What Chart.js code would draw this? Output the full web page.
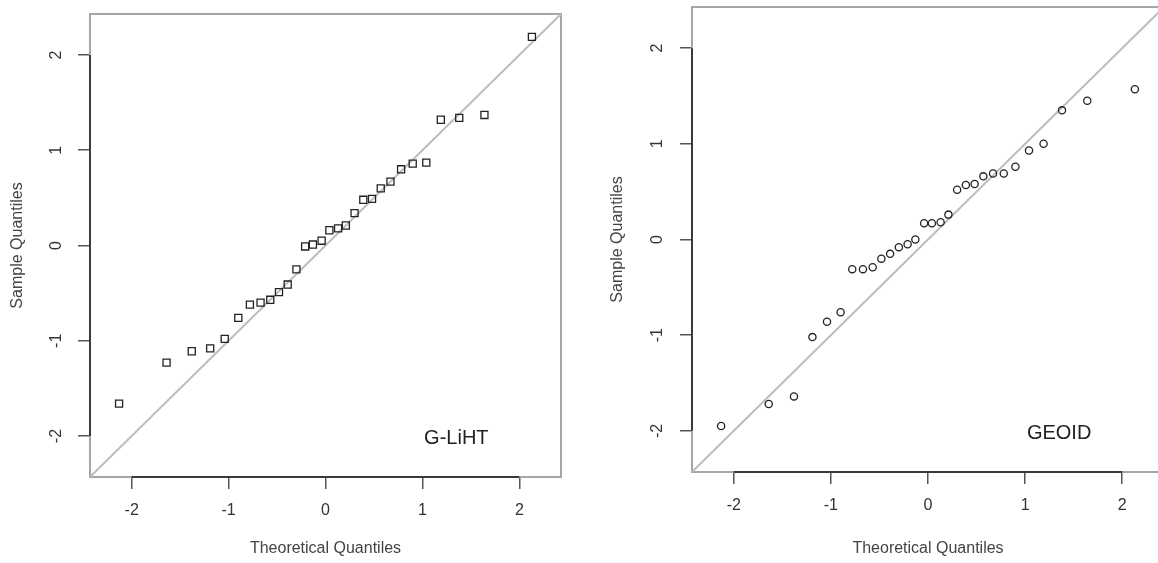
<!DOCTYPE html>
<html>
<head>
<meta charset="utf-8">
<script src="https://cdn.jsdelivr.net/npm/chart.js@4.4.1/dist/chart.umd.min.js"></script>
<style>
    html, body { margin: 0; padding: 0; background: #fff; }
    body { width: 1158px; height: 563px; overflow: hidden; position: relative; }
    canvas { position: absolute; top: 0; }
    #gliht { left: 0; }
    #geoid { left: 580px; }
</style>
</head>
<body>
<canvas id="gliht" width="580" height="563"></canvas>
<canvas id="geoid" width="600" height="563"></canvas>
<script>
// Normal quantiles for 30 samples (shared by both panels)
var theoretical = [-2.13, -1.64, -1.38, -1.19, -1.04, -0.90, -0.78, -0.67, -0.57, -0.48,
    -0.39, -0.30, -0.21, -0.13, -0.04, 0.04, 0.13, 0.21, 0.30, 0.39,
    0.48, 0.57, 0.67, 0.78, 0.90, 1.04, 1.19, 1.38, 1.64, 2.13];

// Standardised sample quantiles
var glihtValues = [-1.66, -1.23, -1.11, -1.08, -0.98, -0.76, -0.62, -0.60, -0.57, -0.49,
    -0.41, -0.25, -0.01, 0.01, 0.05, 0.16, 0.18, 0.21, 0.34, 0.48,
    0.49, 0.60, 0.67, 0.80, 0.86, 0.87, 1.32, 1.34, 1.37, 2.19];
var geoidValues = [-1.95, -1.72, -1.64, -1.02, -0.86, -0.76, -0.31, -0.31, -0.29, -0.20,
    -0.15, -0.08, -0.05, 0.00, 0.17, 0.17, 0.18, 0.26, 0.52, 0.57,
    0.58, 0.66, 0.69, 0.69, 0.76, 0.93, 1.00, 1.35, 1.45, 1.57];

var tickValues = [-2, -1, 0, 1, 2];
var axisMin = -2.43;
var axisMax = 2.43;

var FONT = '"Liberation Sans", Arial, Helvetica, sans-serif';

document.addEventListener("DOMContentLoaded", function () {
    // Box around the plot region plus the dark axis lines between the outer ticks
    var framePlugin = {
        id: 'frame',
        beforeDatasetsDraw: function (chart) {
            var ctx = chart.ctx;
            var area = chart.chartArea;
            var xs = chart.scales.x, ys = chart.scales.y;
            ctx.save();
            ctx.strokeStyle = '#a6a6a6';
            ctx.lineWidth = 2;
            ctx.strokeRect(area.left, area.top, area.right - area.left, area.bottom - area.top);
            ctx.strokeStyle = '#3a3a3a';
            ctx.beginPath();
            ctx.moveTo(xs.getPixelForValue(tickValues[0]), area.bottom);
            ctx.lineTo(xs.getPixelForValue(tickValues[tickValues.length - 1]), area.bottom);
            ctx.moveTo(area.left, ys.getPixelForValue(tickValues[0]));
            ctx.lineTo(area.left, ys.getPixelForValue(tickValues[tickValues.length - 1]));
            ctx.stroke();
            ctx.restore();
        },
        afterDatasetsDraw: function (chart) {
            var opts = chart.options.plugins.frame;
            var ctx = chart.ctx;
            ctx.save();
            ctx.fillStyle = '#222';
            ctx.font = '20px ' + FONT;
            ctx.textAlign = 'center';
            ctx.textBaseline = 'middle';
            ctx.fillText(opts.label, chart.scales.x.getPixelForValue(opts.labelX),
                chart.scales.y.getPixelForValue(opts.labelY));
            ctx.restore();
        }
    };

    // Function to build one QQ panel
    function createQQChart(canvasId, values, marker, radius, label, layout) {
        var points = theoretical.map(function (q, i) {
            return { x: q, y: values[i] };
        });
        var ctx = document.getElementById(canvasId).getContext('2d');
        return new Chart(ctx, {
            type: 'scatter',
            data: {
                datasets: [{
                    data: points,
                    pointStyle: marker,
                    pointRadius: radius,
                    pointBorderWidth: 1.3,
                    pointBorderColor: '#222',
                    pointBackgroundColor: 'rgba(0,0,0,0)',
                    order: 0
                }, {
                    type: 'line',
                    data: [{ x: axisMin, y: axisMin }, { x: axisMax, y: axisMax }],
                    borderColor: '#bdbdbd',
                    borderWidth: 2,
                    pointRadius: 0,
                    order: 1
                }]
            },
            options: {
                responsive: false,
                animation: false,
                devicePixelRatio: 1,
                layout: {
                    padding: { top: layout.top, right: layout.right, bottom: 0, left: 0 }
                },
                plugins: {
                    legend: { display: false },
                    tooltip: { enabled: false },
                    frame: { label: label, labelX: 1.35, labelY: -2.03 }
                },
                scales: {
                    x: {
                        type: 'linear',
                        min: axisMin,
                        max: axisMax,
                        afterBuildTicks: function (scale) {
                            scale.ticks = tickValues.map(function (v) { return { value: v }; });
                        },
                        afterFit: function (scale) {
                            scale.height = layout.xHeight;
                            scale.paddingLeft = 0;
                            scale.paddingRight = 0;
                        },
                        grid: { drawOnChartArea: false, tickLength: 12, tickColor: '#555', lineWidth: 1.5 },
                        border: { display: false },
                        ticks: {
                            padding: 12,
                            color: '#333',
                            font: { family: FONT, size: 16 },
                            maxRotation: 0
                        },
                        title: {
                            display: true,
                            text: 'Theoretical Quantiles',
                            color: '#444',
                            font: { family: FONT, size: 16 },
                            padding: { top: 0, bottom: 5 }
                        }
                    },
                    y: {
                        type: 'linear',
                        min: axisMin,
                        max: axisMax,
                        afterBuildTicks: function (scale) {
                            scale.ticks = tickValues.map(function (v) { return { value: v }; });
                        },
                        afterFit: function (scale) {
                            scale.width = layout.yWidth;
                            scale.paddingTop = 0;
                            scale.paddingBottom = 0;
                        },
                        grid: { drawOnChartArea: false, tickLength: 12, tickColor: '#555', lineWidth: 1.5 },
                        border: { display: false },
                        ticks: {
                            padding: layout.yPad,
                            color: '#333',
                            font: { family: FONT, size: 16 },
                            minRotation: 90,
                            maxRotation: 90,
                            crossAlign: 'center'
                        },
                        title: {
                            display: true,
                            text: 'Sample Quantiles',
                            color: '#444',
                            font: { family: FONT, size: 16 },
                            padding: { top: layout.yTitle, bottom: 0 }
                        }
                    }
                }
            },
            plugins: [framePlugin]
        });
    }

    createQQChart('gliht', glihtValues, 'rect', 5, 'G-LiHT',
        { top: 14, right: 19, xHeight: 86, yWidth: 90, yPad: 14, yTitle: 8 });
    createQQChart('geoid', geoidValues, 'circle', 3.6, 'GEOID',
        { top: 7, right: 16, xHeight: 91, yWidth: 112, yPad: 15, yTitle: 28 });
});
</script>
</body>
</html>
